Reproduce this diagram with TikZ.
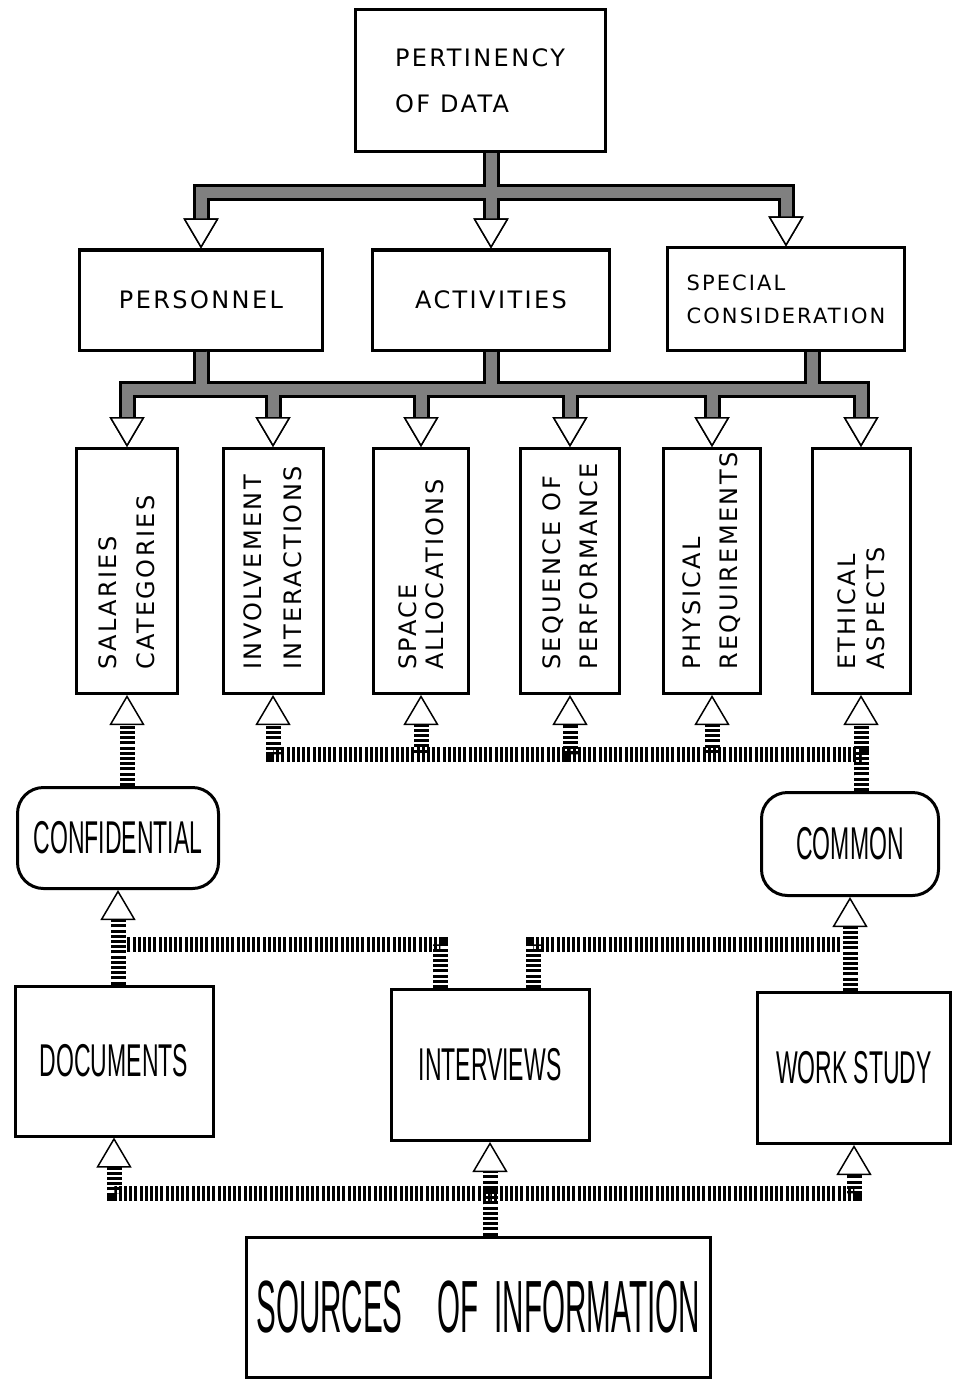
\documentclass[tikz,border=0pt]{standalone}
\usepackage{fontspec}
\newfontfamily\handfont{DejaVu Sans}[LetterSpace=10]
\newfontfamily\tallfont{Liberation Sans}[FakeStretch=0.5]
\newfontfamily\narrowfont{Liberation Sans}[FakeStretch=0.4]
\usetikzlibrary{arrows.meta,calc,positioning}

\begin{document}
\begin{tikzpicture}[x=1pt,y=-1pt,
		box/.style={draw,line width=3pt,inner sep=0pt},
		tag/.style={box,rounded corners=26pt,font=\tallfont\fontsize{46}{50}\selectfont},
		sbox/.style={box,font=\tallfont\fontsize{46}{50}\selectfont},
		hbox/.style={box,font=\handfont\fontsize{24}{28}\selectfont},
		vtext/.style={rotate=90,anchor=west,align=left,inner sep=0pt},
		hat/.style={line width=15pt,dash pattern=on 3pt off 2.2pt},
		hollow/.style={-{Triangle[open,fill=white,color=black,width=35pt,length=30pt,line width=1.5pt]}}]

			\useasboundingbox (0,0) rectangle (953,1380);

			% top levels
			\node [hbox,minimum width=250,minimum height=142,align=left,font=\handfont\fontsize{24}{46}\selectfont] (pert) at (480,81) {PERTINENCY\\OF DATA};
			\node [hbox,minimum width=243,minimum height=100] (pers) at (201,300) {PERSONNEL};
			\node [hbox,minimum width=237,minimum height=100] (act) at (491,300) {ACTIVITIES};
			\node [hbox,minimum width=237,minimum height=102,align=left,font=\handfont\fontsize{21}{33}\selectfont] (spec) at (786,299) {SPECIAL\\CONSIDERATION};

			\foreach \n/\x/\w/\ls/\txt in {sal/127/101/38/{SALARIES\\CATEGORIES},
					inv/273/100/40/{INVOLVEMENT\\INTERACTIONS},
					spa/421/95/27/{SPACE\\ALLOCATIONS},
					seq/570/99/37/{SEQUENCE OF\\PERFORMANCE},
					phy/712/97/37/{PHYSICAL\\REQUIREMENTS},
					eth/861/98/29/{ETHICAL\\ASPECTS}} {
					\node [box,minimum width=\w,minimum height=245] (\n) at (\x,571) {};
					\node [vtext,font=\handfont\fontsize{24}{\ls}\selectfont] (\n-t) at ($(\n.south)+(0,-25)$) {\txt};
				}

			% bottom levels
			\node [tag,minimum width=201,minimum height=101] (conf) at (118,838) {CONFIDENTIAL};
			\node [tag,minimum width=177,minimum height=103] (com) at (850,844) {COMMON};
			\node [sbox,minimum width=198,minimum height=150] (docs) at (114,1061) {DOCUMENTS};
			\node [sbox,minimum width=198,minimum height=151] (intv) at (490,1065) {INTERVIEWS};
			\node [sbox,minimum width=193,minimum height=151] (work) at (854,1068) {WORK STUDY};
			\node [box,minimum width=464,minimum height=140,font=\narrowfont\fontsize{74}{78}\selectfont] (src) at (478,1307) {SOURCES\hspace{35pt}OF\hspace{16pt}INFORMATION};

			\coordinate (busA) at (0,193);
			\coordinate (busB) at (0,389);
			\coordinate (busC) at (0,754);
			\coordinate (busD) at (0,944);
			\coordinate (busE) at (0,1193);
			\coordinate (specdrop) at ($(spec.south)+(26,0)$);

			% grey bars: outline first, then fill
			\foreach \lw/\col in {17/black,11/black!50} {
					\draw [line width=\lw pt,\col,hollow] (act.north |- pert.south) -- (act.north);
					\foreach \t in {pers,spec} {
							\draw [line width=\lw pt,\col,hollow] (act.north |- pert.south) |- (busA -| \t.north) -- (\t.north);
						}
					\foreach \t in {sal,inv,spa,seq,phy,eth} {
							\draw [line width=\lw pt,\col,hollow] (pers.south) |- (busB -| \t.north) -- (\t.north);
						}
					\draw [line width=\lw pt,\col] (act.south) -- (act.south |- busB);
					\draw [line width=\lw pt,\col] (specdrop) -- (specdrop |- busB);
				}

			% hatched lines
			\coordinate (comtop) at (eth.south |- com.north);
			\draw [hat,hollow] (comtop) -- (eth.south);
			\foreach \t in {inv,spa,seq,phy} {
					\draw [hat,hollow] (comtop) |- (busC -| \t.south) -- (\t.south);
				}
			\draw [hat,hollow] (sal.south |- conf.north) -- (sal.south);

			\draw [hat,hollow] (conf.south |- docs.north) -- (conf.south);
			\draw [hat,hollow] (com.south |- work.north) -- (com.south);
			\coordinate (intvL) at ($(intv.north)+(-50,0)$);
			\coordinate (intvR) at ($(intv.north)+(43,0)$);
			\draw [hat] (intvL) |- ($(busD -| conf.south)+(8,0)$);
			\draw [hat] (intvR) |- ($(busD -| com.south)+(-8,0)$);

			\coordinate (srctop) at (intv.south |- src.north);
			\draw [hat,hollow] (srctop) -- (intv.south);
			\foreach \t in {docs,work} {
					\draw [hat,hollow] (srctop) |- (busE -| \t.south) -- (\t.south);
				}
		\end{tikzpicture}
\end{document}
